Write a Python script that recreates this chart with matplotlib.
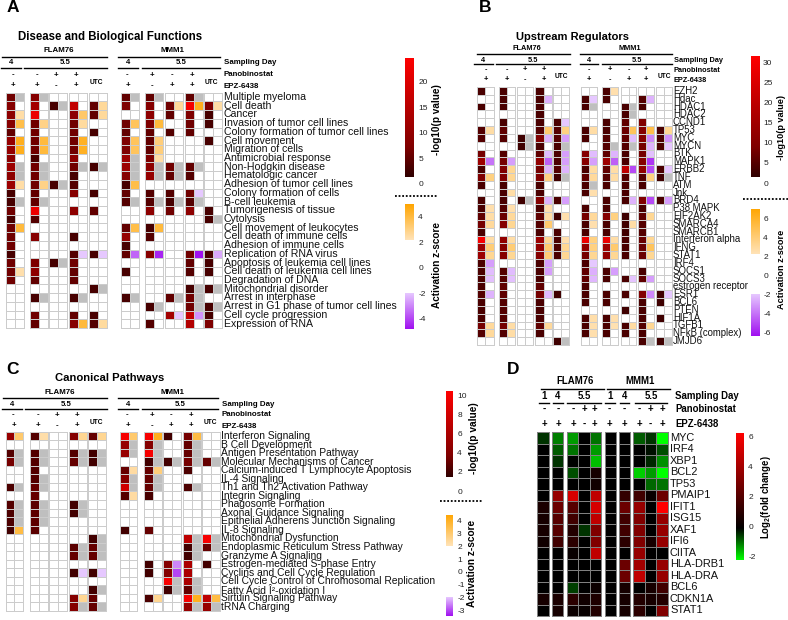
import numpy as np
import matplotlib
matplotlib.use("Agg")
import matplotlib.pyplot as plt
from matplotlib.colors import LinearSegmentedColormap

plt.rcParams['font.family'] = ['Liberation Sans', 'DejaVu Sans']
plt.rcParams['mathtext.fontset'] = 'custom'
plt.rcParams['mathtext.bf'] = 'Liberation Sans:bold'
plt.rcParams['axes.unicode_minus'] = False

N = np.nan  # grey cell: significant but no z-score

# Panel A
a_labels = ["Multiple myeloma", "Cell death", "Cancer", "Invasion of tumor cell lines",
            "Colony formation of tumor cell lines", "Cell movement", "Migration of cells",
            "Antimicrobial response", "Non-Hodgkin disease", "Hematologic cancer",
            "Adhesion of tumor cell lines", "Colony formation of cells", "B-cell leukemia",
            "Tumorigenesis of tissue", "Cytolysis", "Cell movement of leukocytes",
            "Cell death of immune cells", "Adhesion of immune cells", "Replication of RNA virus",
            "Apoptosis of leukemia cell lines", "Cell death of leukemia cell lines",
            "Degradation of DNA", "Mitochondrial disorder", "Arrest in interphase",
            "Arrest in G1 phase of tumor cell lines", "Cell cycle progression", "Expression of RNA"]
a_p = [[6, 8, 0, 0, 0, 5, 5, 0, 5, 0],
       [8, 12, 3, 16, 5, 7, 8, 6, 23, 7],
       [9, 22, 0, 9, 5, 0, 9, 5, 7, 3],
       [8, 6, 0, 6, 0, 6, 7, 0, 6, 3],
       [5, 6, 0, 6, 3, 5, 5, 4, 5, 0],
       [10, 6, 0, 6, 0, 7, 5, 0, 0, 3],
       [10, 6, 0, 6, 0, 7, 5, 0, 0, 0],
       [9, 3, 0, 9, 0, 11, 7, 0, 0, 0],
       [11, 6, 0, 6, 3, 11, 9, 6, 5, 0],
       [9, 6, 0, 3, 0, 8, 10, 5, 4, 0],
       [11, 6, 3, 4, 0, 3, 0, 0, 0, 0],
       [3, 5, 0, 8, 3, 5, 4, 4, 6, 0],
       [3, 5, 0, 0, 0, 4, 4, 3, 4, 0],
       [6, 22, 0, 9, 5, 0, 9, 6, 9, 3],
       [3, 4, 0, 0, 0, 0, 0, 0, 0, 3],
       [6, 0, 0, 0, 0, 5, 3, 0, 0, 0],
       [6, 8, 0, 3, 0, 10, 4, 0, 0, 0],
       [6, 0, 0, 0, 0, 3, 0, 0, 0, 0],
       [3, 0, 0, 4, 3, 5, 8, 0, 6, 3],
       [6, 7, 3, 6, 0, 0, 0, 0, 5, 3],
       [6, 9, 0, 5, 0, 3, 0, 0, 4, 3],
       [6, 5, 0, 5, 0, 0, 0, 0, 0, 0],
       [0, 0, 0, 0, 3, 0, 0, 0, 3, 3],
       [0, 3, 0, 3, 0, 3, 0, 5, 6, 0],
       [0, 0, 0, 0, 0, 0, 3, 0, 6, 3],
       [0, 6, 0, 5, 3, 0, 0, 12, 16, 3],
       [0, 5, 0, 8, 4, 0, 4, 0, 14, 7]]
a_z = [[N, N, 0, 0, 0, N, N, 0, N, 0],
       [0, 0, N, 0, 2.5, 0, 0, 2.5, 4.5, 2.3],
       [2.3, 0, 0, 3.3, 2.5, 0, 0, 0, 0, 0],
       [3.8, 2.8, 0, 2.4, 0, 3.5, 4, 0, 0, 0],
       [0, 0, 0, 0, 0, 0, 0, 0, 0, 0],
       [4.5, 4, 0, 4.4, 0, 3.5, 3, 0, 0, 0],
       [4.5, 4, 0, 4.4, 0, 3.5, 3, 0, 0, 0],
       [0, 0, 0, 0, 0, N, 2.3, 0, 0, 0],
       [N, N, 0, N, N, N, N, N, N, 0],
       [N, N, 0, 0, 0, N, N, N, 0, 0],
       [2.3, 2.8, N, 0, 0, 3.8, 0, 0, 0, 0],
       [0, 0, 0, 0, 0, 0, 0, 0, -2, 0],
       [N, N, 0, 0, 0, N, N, N, N, 0],
       [0, 0, 0, 0, 0, 0, 0, 0, 0, 0],
       [0, 0, 0, 0, 0, 0, 0, 0, 0, N],
       [4, 0, 0, 0, 0, 3.8, 4, 0, 0, 0],
       [0, 0, 0, 0, 0, 0, 0, 0, 0, 0],
       [0, 0, 0, 0, 0, 0, 0, 0, 0, 0],
       [0, 0, 0, -2, -2, -3.5, -4.5, 0, -5, -2.5],
       [0, 0, N, 0, 0, 0, 0, 0, 0, 0],
       [2.2, 0, 0, 0, 0, 0, 0, 0, 0, 0],
       [0, 0, 0, 0, 0, 0, 0, 0, 0, 0],
       [0, 0, 0, 0, N, 0, 0, 0, N, N],
       [0, N, 0, N, 0, N, 0, N, N, 0],
       [0, 0, 0, 0, 0, 0, N, 0, N, N],
       [0, 0, 0, 0, 0, 0, 0, -2, -2.8, 0],
       [0, 0, 0, 4, 2.4, 0, 0, 0, 0, 0]]

# Panel B
b_labels = ["EZH2", "Hdac", "HDAC1", "HDAC2", "CCND1", "TP53", "MYC", "MYCN", "BTK", "MAPK1",
            "ERBB2", "TNF", "ATM", "Jnk", "BRD4", "P38 MAPK", "EIF2AK2", "SMARCA4", "SMARCB1",
            "Interferon alpha", "IFNG", "STAT1", "IRF4", "SOCS1", "SOCS3", "estrogen receptor",
            "ESR1", "BCL6", "PTEN", "HIF1A", "TGFB1", "NFkB (complex)", "JMJD6"]
b_p = [[4, 4, 0, 4, 0, 0, 4, 0, 0, 0],
       [0, 4, 0, 4, 0, 4, 4, 0, 5, 0],
       [4, 4, 0, 4, 0, 4, 0, 4, 4, 0],
       [0, 0, 0, 4, 0, 0, 0, 4, 0, 0],
       [0, 4, 0, 4, 4, 0, 4, 6, 9, 0],
       [5, 6, 0, 5, 5, 4, 4, 7, 10, 4],
       [5, 5, 3, 9, 5, 4, 5, 6, 10, 4],
       [0, 0, 3, 4, 4, 0, 5, 5, 8, 4],
       [8, 5, 0, 6, 4, 10, 6, 4, 8, 0],
       [14, 8, 0, 12, 4, 10, 14, 4, 10, 0],
       [4, 9, 0, 8, 5, 4, 6, 20, 12, 4],
       [9, 9, 0, 9, 3, 6, 5, 5, 5, 3],
       [4, 4, 0, 4, 0, 4, 4, 4, 4, 0],
       [0, 4, 0, 4, 0, 4, 0, 4, 0, 0],
       [4, 4, 3, 10, 4, 0, 4, 4, 9, 4],
       [4, 5, 0, 4, 0, 4, 4, 0, 4, 0],
       [6, 7, 0, 6, 3, 8, 10, 3, 6, 0],
       [8, 10, 0, 5, 0, 4, 4, 3, 5, 0],
       [4, 0, 0, 4, 4, 4, 4, 3, 5, 0],
       [30, 12, 0, 14, 4, 28, 28, 4, 7, 0],
       [14, 10, 0, 12, 4, 12, 14, 4, 7, 0],
       [14, 10, 0, 10, 4, 8, 12, 4, 7, 0],
       [4, 0, 0, 4, 0, 4, 0, 0, 0, 0],
       [4, 5, 0, 4, 0, 6, 4, 0, 4, 0],
       [4, 5, 0, 4, 0, 6, 4, 4, 6, 0],
       [4, 6, 0, 6, 0, 4, 0, 0, 0, 0],
       [5, 6, 0, 8, 3, 4, 4, 4, 9, 3],
       [4, 5, 0, 4, 0, 4, 4, 0, 4, 3],
       [4, 5, 0, 4, 0, 0, 0, 3, 4, 0],
       [4, 5, 0, 4, 0, 4, 4, 0, 4, 3],
       [8, 8, 0, 6, 0, 4, 4, 4, 5, 0],
       [5, 5, 0, 4, 0, 4, 4, 4, 4, 0],
       [0, 0, 0, 0, 3, 0, 0, 0, 4, 3]]
b_z = [[0, 0, 0, 0, 0, 0, 2.3, 0, 0, 0],
       [0, 0, 0, -2.5, 0, -2, 0, 0, -2.5, 0],
       [0, 0, 0, 0, 0, N, 0, N, 0, 0],
       [0, 0, 0, 0, 0, 0, 0, N, 0, 0],
       [0, 0, 0, 0, -2, 0, 0, 0, 0, 0],
       [2.5, 0, 0, 4, 3.5, 2.5, 0, 4.5, 5, 3],
       [0, 0, N, -2.5, -3, 0, 0, -2.3, -3.5, -3.3],
       [0, 0, N, 0, N, 0, N, N, -2.5, -2],
       [0, 0, 0, -2.3, -3, -2.3, -2.5, 0, -2.2, 0],
       [-4, -3, 0, -4.5, -3, -3, -4.5, 0, -5.5, 0],
       [0, 3, 0, -2.5, -2.5, 2.6, 2.5, -5, -5, -2],
       [3.5, 3, 0, 3.5, N, 2.8, 2.5, 0, 3.5, N],
       [0, 0, 0, 0, 0, N, 0, 0, 0, 0],
       [0, 2.5, 0, 0, 0, 2.3, 0, 0, 0, 0],
       [0, 0, N, -2.5, -3, 0, 0, -2.5, -5, -3],
       [2.3, 2.3, 0, 2.3, 0, 0, 0, 0, 0, 0],
       [2.5, 2.8, 0, 2.5, 2.3, 2.8, 3.5, 0, 3, 0],
       [2.8, 3, 0, 4, 0, 2.3, 0, 2.5, 0, 0],
       [0, 0, 0, 0, 0, 0, 0, 0, 0, 0],
       [2.5, 2.5, 0, 3, 2.3, 3.5, 2.5, 0, 3, 0],
       [3.8, 3.8, 0, 4, 3, 3.5, 4, 0, 4.5, 0],
       [3, 3, 0, 3.8, 3, 3, 3, 0, 3, 0],
       [-3, 0, 0, -3, 0, -2, 0, 0, 0, 0],
       [-2.3, -2.3, 0, -3, 0, -2.6, -3, 0, 0, 0],
       [-2.2, -2.2, 0, 0, 0, -2.4, 0, -2.1, -3, 0],
       [0, 0, 0, 0, 0, 0, 0, 0, 0, 0],
       [-2.5, 0, 0, -2.3, 0, 0, 0, 0, -3.5, -2],
       [0, 0, 0, 0, 0, 0, 0, 0, 0, 0],
       [0, 0, 0, 0, 0, 0, 0, 0, 0, 0],
       [0, 0, 0, 0, 0, 2.4, 2.3, 0, 0, 0],
       [2.8, 2.5, 0, 2.8, 0, 2.3, 2.2, 2.6, 3, 0],
       [2.8, 2.5, 0, 0, 0, 2.3, 0, 0, 0, 0],
       [0, 0, 0, 0, N, 0, 0, 0, N, N]]

# Panel C
c_labels = ["Interferon Signaling", "B Cell Development", "Antigen Presentation Pathway",
            "Molecular Mechanisms of Cancer", "Calcium-induced T Lymphocyte Apoptosis",
            "IL-4 Signaling", "Th1 and Th2 Activation Pathway", "Integrin Signaling",
            "Phagosome Formation", "Axonal Guidance Signaling",
            "Epithelial Adherens Junction Signaling", "IL-8 Signaling",
            "Mitochondrial Dysfunction", "Endoplasmic Reticulum Stress Pathway",
            "Granzyme A Signaling", "Estrogen-mediated S-phase Entry",
            "Cyclins and Cell Cycle Regulation", "Cell Cycle Control of Chromosomal Replication",
            "Fatty Acid Î²-oxidation I", "Sirtuin Signaling Pathway", "tRNA Charging"]
c_p = [[5, 2.5, 0, 4, 3, 10, 10, 2, 3.5, 0],
       [0, 0, 0, 0, 0, 5, 4, 0, 3, 0],
       [2.5, 2.5, 0, 2.5, 2, 5, 10, 0, 3, 0],
       [3.5, 2.5, 0, 3, 2, 0, 2, 2, 3.5, 3],
       [0, 2.5, 0, 0, 0, 3, 3, 0, 2.3, 0],
       [0, 2.5, 0, 0, 0, 4, 3, 0, 0, 0],
       [2.3, 3, 0, 0, 0, 8, 3, 0, 2.3, 0],
       [0, 3, 0, 0, 0, 2.5, 2.2, 0, 0, 0],
       [2.5, 2.7, 0, 2, 0, 0, 0, 0, 0, 0],
       [2.3, 2.7, 0, 2, 0, 0, 0, 0, 0, 0],
       [2.3, 2.7, 0, 0, 0, 0, 0, 0, 0, 0],
       [2, 2.7, 0, 0, 0, 2, 3, 0, 0, 0],
       [0, 0, 0, 0, 2, 0, 0, 0, 7, 10],
       [0, 0, 0, 2.7, 3, 0, 0, 0, 2, 3],
       [0, 0, 0, 3, 3, 0, 0, 0, 2, 0],
       [0, 0, 0, 0, 0, 0, 2, 4, 6, 2],
       [0, 0, 0, 2, 2, 0, 2, 4, 6, 0],
       [0, 0, 0, 0, 0, 0, 0, 10, 6, 0],
       [0, 0, 0, 0, 2, 0, 0, 2, 3, 0],
       [0, 0, 0, 4, 3, 0, 2.3, 0, 10, 7],
       [0, 0, 0, 4, 3, 0, 0, 0, 5, 5]]
c_z = [[3, 2.2, 0, 2.5, 2.5, 3, 4, 0, 3.5, 0],
       [0, 0, 0, 0, 0, N, N, 0, N, 0],
       [N, N, 0, N, N, N, N, 0, N, 0],
       [N, N, 0, N, N, 0, N, N, N, N],
       [0, 0, 0, 0, 0, 2.3, 2.8, 0, 0, 0],
       [0, N, 0, 0, 0, N, N, 0, 0, 0],
       [N, N, 0, 0, 0, N, N, 0, N, 0],
       [0, 0, 0, 0, 0, 2.3, 0, 0, 0, 0],
       [N, N, 0, N, 0, 0, 0, 0, 0, 0],
       [N, N, 0, N, 0, 0, 0, 0, 0, 0],
       [N, N, 0, 0, 0, 0, 0, 0, 0, 0],
       [3.5, 0, 0, 0, 0, 0, 0, 0, 0, 0],
       [0, 0, 0, 0, N, 0, 0, 0, N, N],
       [0, 0, 0, N, N, 0, 0, 0, N, N],
       [0, 0, 0, N, N, 0, 0, 0, N, 0],
       [0, 0, 0, 0, 0, 0, 0, -2.5, 0, 0],
       [0, 0, 0, -2, -2, 0, 0, -3, 0, 0],
       [0, 0, 0, 0, 0, 0, 0, N, N, 0],
       [0, 0, 0, 0, N, 0, 0, N, N, 0],
       [0, 0, 0, 2.5, 0, 0, 2.5, 0, 4, 3.5],
       [0, 0, 0, N, N, 0, 0, 0, N, N]]

# Panel D
d_labels = ["MYC", "IRF4", "XBP1", "BCL2", "TP53", "PMAIP1", "IFIT1", "ISG15", "XAF1", "IFI6",
            "CIITA", "HLA-DRB1", "HLA-DRA", "BCL6", "CDKN1A", "STAT1"]
d_fc = [[-0.4, -1.0, -1.2, 0, -0.9, 0, 0, -0.7, -0.4, -2],
        [0, -0.7, -0.9, 0, -1.2, 0, 0, 0, -0.1, -0.6],
        [0, -0.4, 0, 0, -1.5, 0, 0, 0, -0.3, -1.1],
        [0, 0, -0.6, 0, 0.5, 0, 0, -1.6, -1.2, -2],
        [0, 0, 0, 0, 0.4, 0, 0, 0, -0.8, -0.9],
        [0, 3.5, 5, 0, 4.5, 0, 1.2, 1.5, 0.2, 2.5],
        [0.6, 2.5, 2, 0, 5, 0, 2.5, 3.5, 0, 6],
        [0.5, 2, 1.5, 0, 4.5, 0, 1.5, 3, 0, 3.5],
        [0.5, 2, 0.8, -0.4, 3, 0, 1.5, 3, 0, 3.5],
        [0.4, 1.5, 1, 0, 3, 0, 1, 3, 0.5, 3.5],
        [0, 0, 0.2, 0, 4.5, 0, 0, 3.5, 0, 0],
        [0, 0, 0, 0, 0, 0, 2.5, 3.8, 0, 3.5],
        [0, 0, 0, 0, 0, 0, 2.5, 4.5, 0, 3.5],
        [0, 0, -0.5, 0, 0.3, 0, 0.5, 0, 0.5, 1.5],
        [0.5, 0.6, 1, 0.4, 0.7, 0, 0.5, 0.8, 0.5, 0.8],
        [0, 0.5, 0.3, 0.2, 0.8, 0, 0.5, 1, 0, 3]]

pan_f = ['-', '-', '+', '+']
pan_m = ['-', '+', '-', '+']
epz_f = ['+', '+', '-', '+']
epz_m = ['+', '-', '+', '+']
d_pan = ['-', '-', '-', '+', '+', '-', '-', '-', '+', '+']
d_epz = ['+', '+', '+', '-', '+', '+', '+', '+', '-', '+']
d_days = ['1', '4', '5.5', '1', '4', '5.5']

reds = LinearSegmentedColormap.from_list("reds", [(0, "#300000"), (0.25, "#800000"), (1, "#ff0000")])
oranges = LinearSegmentedColormap.from_list("oranges", ["#ffe3b8", "#ffa500"])
purples = LinearSegmentedColormap.from_list("purples", ["#e6c8ff", "#a010f0"])
fold = LinearSegmentedColormap.from_list("fold", [(0, "#00ff00"), (0.25, "#000000"), (1, "#ff0000")])

W, H = 788, 620
fig = plt.figure(figsize=(W / 100, H / 100), dpi=100)
bg = fig.add_axes([0, 0, 1, 1])
bg.set_xlim(0, W)
bg.set_ylim(H, 0)
bg.axis("off")


def px_axes(x0, y0, x1, y1):
    ax = fig.add_axes([x0 / W, 1 - y1 / H, (x1 - x0) / W, (y1 - y0) / H])
    return ax


def p_color(v, lo, hi):
    if v == 0:
        return (1, 1, 1)
    return reds((v - lo) / (hi - lo))[:3]


def z_color(v, zhi, zlo):
    if np.isnan(v):
        return (0.75, 0.75, 0.75)
    if v > 0:
        return oranges((v - 2) / (zhi - 2))[:3]
    if v < 0:
        return purples((-v - 2) / (-zlo - 2))[:3]
    return (1, 1, 1)


def heat_panel(p, z, labels, groups, top, bottom, plim, zlim, label_x, fs):
    p = np.array(p, dtype=float)
    z = np.array(z, dtype=float)
    n = len(labels)
    for g, (x0, x1) in enumerate(groups):
        ax = px_axes(x0, top, x1, bottom)
        rgb = np.ones((n, 2, 3))
        for i in range(n):
            rgb[i, 0] = p_color(p[i, g], *plim)
            rgb[i, 1] = z_color(z[i, g], *zlim)
        m = ax.pcolormesh(np.arange(3), np.arange(n + 1), rgb, edgecolors="#cccccc", linewidth=0.55)
        m.set_clip_on(False)
        ax.set_ylim(n, 0)
        ax.axis("off")
    step = (bottom - top) / n
    for i, lab in enumerate(labels):
        bg.text(label_x, top + (i + 0.5) * step, lab, fontsize=fs, va="center", ha="left", color="#111111")


def header(f_x, m_x, f_line, m_line, ys, f4, f55, m4, m55, right_x, groups, shift, hfs):
    # ys = strain, strain line, day, day line, pan, epz, utc
    ks = dict(ha="center", va="center", fontweight="bold", fontsize=hfs)
    bg.text(f_x, ys[0], "FLAM76", **ks)
    bg.text(m_x, ys[0], "MMM1", **ks)
    bg.plot(f_line, [ys[1]] * 2, color="k", lw=1.0)
    bg.plot(m_line, [ys[1]] * 2, color="k", lw=1.0)
    for seg, lab in [(f4, "4"), (f55, "5.5"), (m4, "4"), (m55, "5.5")]:
        bg.plot(seg, [ys[3]] * 2, color="k", lw=1.0)
        bg.text(sum(seg) / 2, ys[2], lab, **ks)
    signs = list(zip(pan_f, epz_f)) + [None] + list(zip(pan_m, epz_m)) + [None]
    for (x0, x1), s in zip(groups, signs):
        xc = (x0 + x1) / 2 + shift
        if s is None:
            bg.text(xc, ys[6], "UTC", ha="center", va="center", fontweight="bold", fontsize=4.8)
        else:
            bg.text(xc, ys[4], s[0], **ks)
            bg.text(xc, ys[5], s[1], **ks)
    for lab, y in zip(["Sampling Day", "Panobinostat", "EPZ-6438"], [ys[2], ys[4], ys[5]]):
        bg.text(right_x, y, lab, ha="left", va="center", fontweight="bold", fontsize=hfs)


def bars(x0, x1, p_box, p_range, p_ticks, z_box, z_top, z_low, z_hi2, z_lo2, z_ticks, dot, p_lab, z_lab, lab_fs):
    # p colour bar, axis runs through 0 below the coloured part
    ax = px_axes(x0, p_box[0], x1, p_box[1])
    grad = np.linspace(1, 0, 200).reshape(-1, 1)
    ax.imshow(grad, cmap=reds, aspect="auto", extent=[0, 1, p_range[1], p_range[2]], vmin=0, vmax=1)
    ax.set_ylim(p_range[0], p_range[3])
    ax.set_xlim(0, 1)
    ax.xaxis.set_visible(False)
    ax.yaxis.tick_right()
    ax.set_yticks(p_ticks)
    ax.tick_params(axis="y", length=0, labelsize=6, pad=3, labelcolor="#222222")
    for s in ax.spines.values():
        s.set_visible(False)
    # z colour bar with the white gap between orange and purple
    ax = px_axes(x0, z_box[0], x1, z_box[1])
    ax.imshow(grad, cmap=oranges, aspect="auto", extent=[0, 1, z_hi2, z_top], vmin=0, vmax=1)
    ax.imshow(grad[::-1], cmap=purples, aspect="auto", extent=[0, 1, z_low, z_lo2], vmin=0, vmax=1)
    ax.set_ylim(z_low, z_top)
    ax.set_xlim(0, 1)
    ax.xaxis.set_visible(False)
    ax.yaxis.tick_right()
    ax.set_yticks(z_ticks)
    ax.tick_params(axis="y", length=0, labelsize=6, pad=3, labelcolor="#222222")
    for s in ax.spines.values():
        s.set_visible(False)
    bg.plot(dot[:2], [dot[2]] * 2, color="k", lw=1.3, linestyle=(0, (1, 1)))
    bg.text(p_lab[0], p_lab[1], "-log10(p value)", rotation=90, ha="center", va="center",
            fontweight="bold", fontsize=lab_fs)
    bg.text(z_lab[0], z_lab[1], "Activation z-score", rotation=90, ha="center", va="center",
            fontweight="bold", fontsize=lab_fs)


# A
groups_a = [(6, 23.5), (30, 48), (49.5, 67), (69, 87), (89, 107), (120.5, 138.5), (145, 163), (165, 183), (185, 203), (204, 222)]
heat_panel(a_p, a_z, a_labels, groups_a, 92.7, 328, (1.3, 24.6), (5, -4.8), 224, 7.6)
header(59, 173, (2, 107), (118, 220), (51, 57, 63, 68, 75, 86, 82), (1, 21), (24, 107), (118, 138), (142, 220), 224, groups_a, -2, 5.7)
bg.text(13, 8, "A", fontsize=12.5, fontweight="bold", ha="center", va="center")
bg.text(110, 37, "Disease and Biological Functions", fontsize=8.3, fontweight="bold", ha="center", va="center")
bars(405, 414, (58, 184), (0, 1.3, 24.6, 24.6), [0, 5, 10, 15, 20], (204, 329), 5, -4.8, 2.2, -2, [4, 2, 0, -2, -4],
     (395, 438, 196), (437, 120), (437, 265), 7.2)

# B
groups_b = [(477, 494), (499, 515), (517, 533), (535, 552), (553, 569), (581, 597), (602, 618), (621, 636), (638, 654), (656, 672)]
heat_panel(b_p, b_z, b_labels, groups_b, 87, 345, (1.5, 31.5), (7, -6.4), 673, 6.9)
header(527, 630, (477, 570), (580, 672), (49, 54, 60, 64, 70, 80, 76), (474, 493), (496, 570), (580, 598), (602, 672), 674, groups_b, 0, 5.3)
bg.text(485, 8, "B", fontsize=12.5, fontweight="bold", ha="center", va="center")
bg.text(573, 37, "Upstream Regulators", fontsize=8, fontweight="bold", ha="center", va="center")
bars(751, 759, (56, 183), (0, 1.5, 31.5, 31.5), [0, 5, 10, 15, 20, 25, 30], (209, 336), 7, -6.4, 2.2, -2, [6, 4, 2, 0, -2, -4, -6],
     (743, 788, 199), (782, 127), (782, 269), 6.6)

# C
groups_c = [(6, 23), (30, 48), (49, 67), (69, 87), (88, 106), (120, 137), (144, 162), (163, 181), (183, 201), (202, 220)]
heat_panel(c_p, c_z, c_labels, groups_c, 431.7, 611, (1.5, 10.5), (4.4, -3.4), 221, 7.4)
header(60, 173, (3, 107), (118, 218), (392, 398, 404, 409, 415, 426, 422), (2, 22), (25, 107), (118, 138), (142, 218), 222, groups_c, -1, 5.7)
bg.text(13, 369, "C", fontsize=12.5, fontweight="bold", ha="center", va="center")
bg.text(110, 378, "Canonical Pathways", fontsize=8.1, fontweight="bold", ha="center", va="center")
bars(446, 453, (391, 491), (0, 1.5, 10.5, 10.5), [0, 2, 4, 6, 8, 10], (515, 616), 4.4, -3.4, 2, -2, [4, 3, 2, 1, 0, -1, -2, -3],
     (440, 483, 501), (474, 438), (472, 563), 7.3)

# D
d = np.array(d_fc, dtype=float)
d_blocks = [((537, 549), [0]), ((552, 563), [1]), ((567, 601), [2, 3, 4]), ((605, 616), [5]), ((619, 630), [6]), ((633, 668), [7, 8, 9])]
d_top, d_bottom = 432, 616
for (x0, x1), cols in d_blocks:
    ax = px_axes(x0, d_top, x1, d_bottom)
    m = ax.pcolormesh(np.arange(len(cols) + 1), np.arange(len(d_labels) + 1), d[:, cols], cmap=fold,
                      vmin=-2, vmax=6, edgecolors="#808080", linewidth=0.5)
    m.set_clip_on(False)
    ax.set_ylim(len(d_labels), 0)
    ax.axis("off")
d_step = (d_bottom - d_top) / len(d_labels)
for i, lab in enumerate(d_labels):
    bg.text(670, d_top + (i + 0.5) * d_step, lab, fontsize=7.9, va="center", ha="left", color="#111111")
dk = dict(ha="center", va="center", fontweight="bold", fontsize=6.9)
bg.text(575, 381, "FLAM76", **dk)
bg.text(640, 381, "MMM1", **dk)
bg.plot((541, 604), (389, 389), color="k", lw=1.0)
bg.plot((607, 670), (389, 389), color="k", lw=1.0)
for seg, lab in zip([(539, 549), (553, 563), (567, 601), (605, 615), (620, 629), (635, 667)], d_days):
    bg.plot(seg, (403, 403), color="k", lw=1.0)
    bg.text(sum(seg) / 2, 396, lab, **dk)
d_xs = [544, 558, 573, 584, 594, 609, 624, 639, 650, 662]
for x, a, b in zip(d_xs, d_pan, d_epz):
    bg.text(x, 409, a, **dk)
    bg.text(x, 424, b, **dk)
for lab, y in zip(["Sampling Day", "Panobinostat", "EPZ-6438"], [396, 409, 424]):
    bg.text(675, y, lab, ha="left", va="center", fontweight="bold", fontsize=6.9)
bg.text(513, 370, "D", fontsize=12.5, fontweight="bold", ha="center", va="center")
ax = px_axes(736, 433, 744, 560)
ax.imshow(np.linspace(1, 0, 256).reshape(-1, 1), cmap=fold, aspect="auto", extent=[0, 1, -2.2, 6.2], vmin=0, vmax=1)
ax.set_ylim(-2.2, 6.2)
ax.set_xlim(0, 1)
ax.xaxis.set_visible(False)
ax.yaxis.tick_right()
ax.set_yticks([-2, 0, 2, 4, 6])
ax.tick_params(axis="y", length=0, labelsize=6, pad=3, labelcolor="#222222")
for s in ax.spines.values():
    s.set_visible(False)
bg.text(766, 497, r"$\mathbf{Log_2}$(fold change)", rotation=90, ha="center", va="center",
        fontweight="bold", fontsize=6.9)

fig.savefig("out.png", dpi=100)
